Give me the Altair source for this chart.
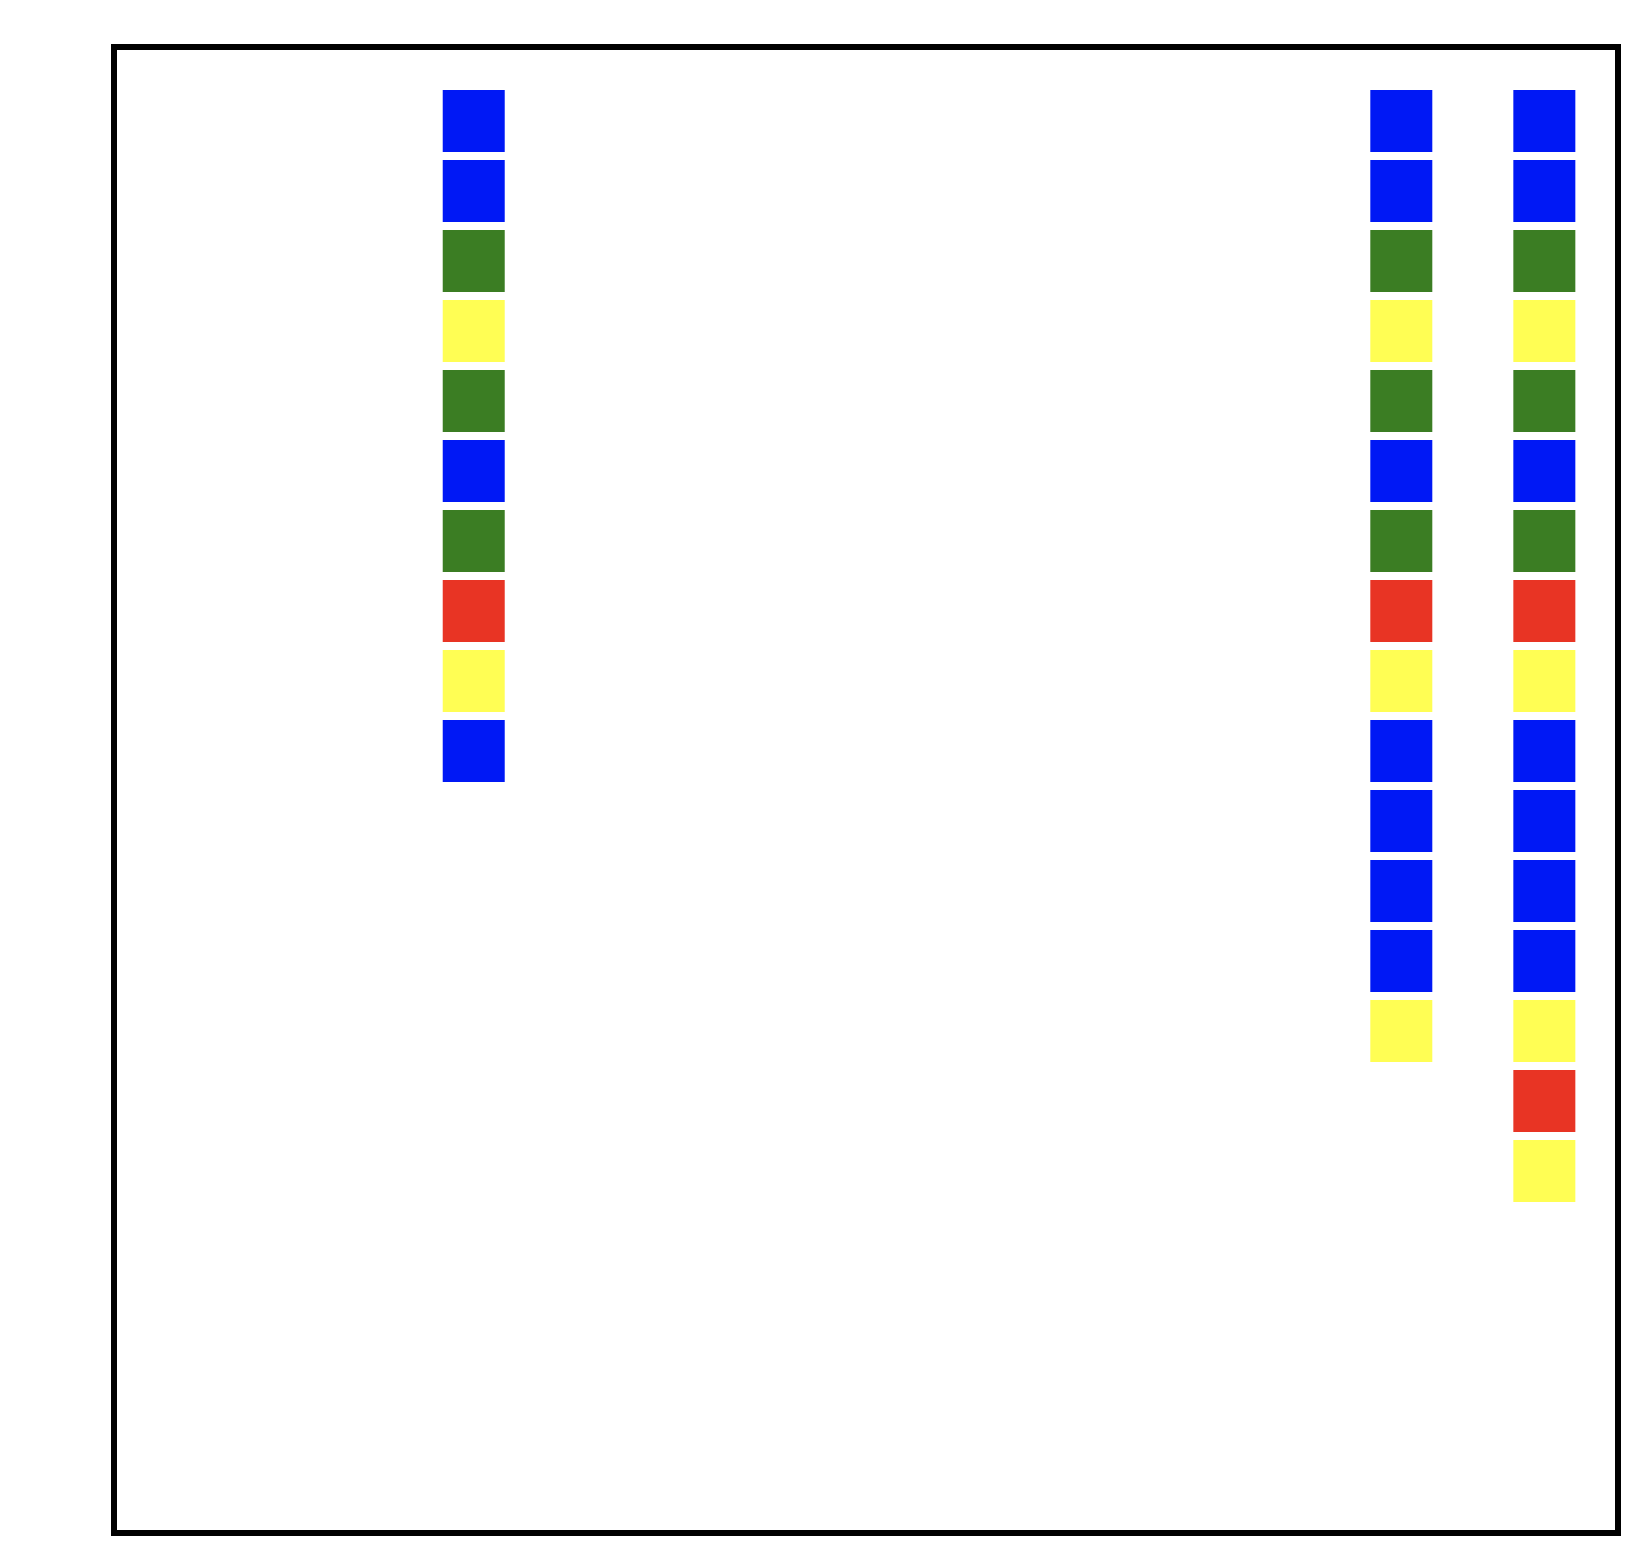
import altair as alt
import pandas as pd

# Column positions (x) and the colour category of each square, top to bottom
column_x = [5.03, 18, 20]
column_1 = ["blue", "blue", "green", "yellow", "green", "blue", "green", "red", "yellow", "blue"]
column_2 = ["blue", "blue", "green", "yellow", "green", "blue", "green", "red", "yellow", "blue",
            "blue", "blue", "blue", "yellow"]
column_3 = ["blue", "blue", "green", "yellow", "green", "blue", "green", "red", "yellow", "blue",
            "blue", "blue", "blue", "yellow", "red", "yellow"]

categories = ["blue", "green", "yellow", "red"]
palette = ["#0018F5", "#3B7D23", "#FFFE54", "#E83424"]

rows = []
for xv, seq in zip(column_x, [column_1, column_2, column_3]):
    for i, c in enumerate(seq):
        rows.append({"x": xv, "row": i + 1, "color": c})
df = pd.DataFrame(rows)

chart = (
    alt.Chart(df)
    .mark_square(size=3844, opacity=1, strokeWidth=0)
    .encode(
        x=alt.X("x:Q", axis=None, scale=alt.Scale(domain=[0, 21.03], nice=False, zero=False)),
        y=alt.Y("row:Q", axis=None, scale=alt.Scale(domain=[-0.057, 21.17], nice=False, zero=False, reverse=True)),
        color=alt.Color("color:N", scale=alt.Scale(domain=categories, range=palette), legend=None),
    )
    .properties(
        width=1504,
        height=1486,
        autosize=alt.AutoSizeParams(type="none"),
        padding={"left": 114, "top": 47, "right": 30, "bottom": 25},
    )
    .configure(background="white")
    .configure_view(stroke="black", strokeWidth=6)
)

chart.save("out.html", embed_options={"renderer": "svg", "actions": False})
